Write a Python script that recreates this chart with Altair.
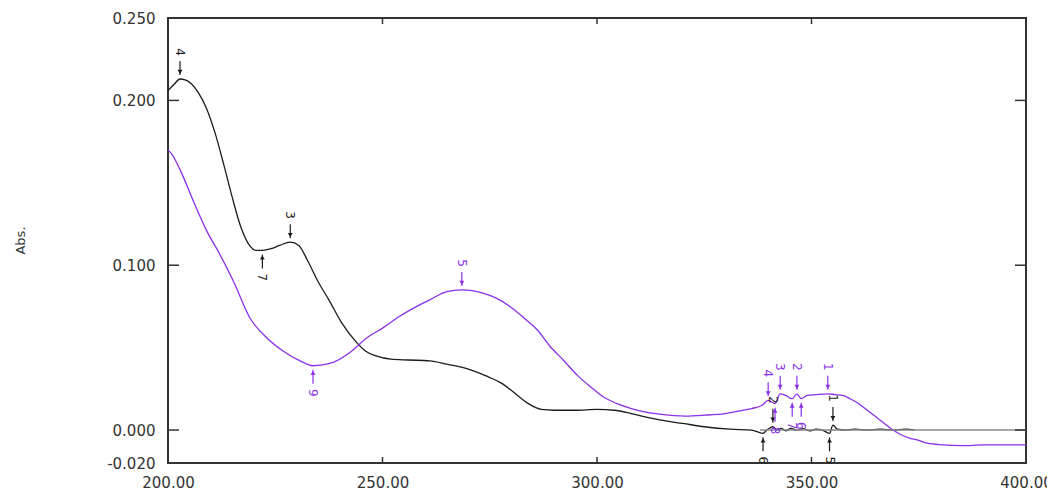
import altair as alt
import pandas as pd

# ---- spectrum data ----
black_nm = [200.0, 201.5, 202.8, 204.0, 205.5, 207.0, 209.0, 211.0, 213.0, 215.0, 217.0, 219.0,
            220.5, 222.0, 224.0, 226.0, 228.5, 230.5, 232.5, 235.0, 237.5, 240.5, 244.0, 246.0,
            248.5, 252.0, 256.0, 261.0, 265.0, 270.0, 274.0, 278.0, 281.0, 284.0, 287.0, 290.0,
            295.0, 300.0, 304.0, 308.0, 312.0, 316.0, 320.0, 325.0, 331.0, 336.0, 338.7, 339.6,
            341.0, 342.0, 343.0, 344.0, 345.2, 346.5, 348.0, 349.5, 351.0, 352.5, 354.2, 355.0,
            356.0, 358.0, 360.0, 363.0, 366.0, 369.0, 372.0, 374.0]
black_abs = [0.206, 0.210, 0.213, 0.2125, 0.210, 0.205, 0.195, 0.180, 0.161, 0.141, 0.123, 0.112,
             0.109, 0.109, 0.110, 0.112, 0.114, 0.112, 0.103, 0.090, 0.079, 0.065, 0.053, 0.048,
             0.045, 0.043, 0.0425, 0.042, 0.040, 0.037, 0.033, 0.028, 0.022, 0.016, 0.0125, 0.012,
             0.012, 0.0125, 0.012, 0.010, 0.0075, 0.0055, 0.004, 0.002, 0.0005, 0.0, -0.002, 0.0,
             0.002, 0.0, 0.001, -0.0005, 0.001, 0.0, 0.0008, -0.0005, 0.0005, 0.0, -0.002, 0.003,
             0.0005, 0.0, 0.0005, 0.0, 0.0005, 0.0, 0.0005, 0.0]

purple_nm = [200.0, 201.0, 202.8, 205.9, 209.0, 212.0, 215.3, 219.1, 223.0, 226.8, 230.8, 233.8,
             236.0, 238.5, 242.4, 246.4, 250.1, 254.0, 258.0, 261.0, 265.0, 268.5, 273.4, 276.5,
             279.7, 283.0, 286.0, 289.0, 292.3, 295.5, 298.6, 301.5, 304.7, 308.0, 311.0, 315.0,
             320.5, 325.0, 329.8, 333.0, 336.0, 338.5, 339.9, 341.5, 342.7, 344.0, 345.5, 346.6,
             347.6, 349.0, 351.0, 353.8, 355.5, 357.3, 359.0, 361.0, 363.0, 365.0, 367.0, 369.0,
             371.0, 373.0, 374.6, 377.0, 380.6, 385.0, 390.0, 395.0, 400.0]
purple_abs = [0.170, 0.167, 0.158, 0.139, 0.121, 0.107, 0.090, 0.068, 0.056, 0.048, 0.042, 0.039,
              0.0395, 0.041, 0.047, 0.056, 0.062, 0.069, 0.075, 0.079, 0.084, 0.085, 0.083, 0.080,
              0.075, 0.068, 0.061, 0.051, 0.042, 0.033, 0.026, 0.020, 0.016, 0.013, 0.011, 0.0095,
              0.0085, 0.009, 0.010, 0.0115, 0.013, 0.015, 0.018, 0.016, 0.022, 0.021, 0.019, 0.022,
              0.019, 0.021, 0.0215, 0.022, 0.0215, 0.021, 0.019, 0.016, 0.012, 0.008, 0.004, 0.0,
              -0.003, -0.005, -0.006, -0.008, -0.009, -0.0095, -0.009, -0.009, -0.009]

# ---- peak / valley picks ----
black_peak_nm = [202.8, 228.5, 341.0, 355.0]
black_peak_abs = [0.213, 0.114, 0.002, 0.003]
black_peak_label = ["4", "3", "2", "1"]
black_valley_nm = [222.0, 338.7, 354.2]
black_valley_abs = [0.109, -0.002, -0.002]
black_valley_label = ["7", "6", "5"]

purple_peak_nm = [268.5, 339.9, 342.7, 346.6, 353.8]
purple_peak_abs = [0.085, 0.018, 0.022, 0.022, 0.022]
purple_peak_label = ["5", "4", "3", "2", "1"]
purple_valley_nm = [233.8, 341.5, 345.5, 347.6]
purple_valley_abs = [0.039, 0.016, 0.019, 0.019]
purple_valley_label = ["9", "8", "7", "6"]

# ---- axes ----
x_label_values = [200, 250, 300, 350, 400]
y_label_values = [-0.02, 0.0, 0.1, 0.2, 0.25]
x_tick_values = [250, 300, 350]
y_tick_values = [0.0, 0.1, 0.2]
baseline_nm = [338.0, 400.0]

series_names = ["black", "purple"]
series_colors = ["#1c1c1c", "#8b2fe8"]

lines = pd.DataFrame({
    "nm": black_nm + purple_nm,
    "abs": black_abs + purple_abs,
    "series": ["black"] * len(black_nm) + ["purple"] * len(purple_nm),
})
peaks = pd.DataFrame({
    "nm": black_peak_nm + purple_peak_nm,
    "abs": black_peak_abs + purple_peak_abs,
    "label": black_peak_label + purple_peak_label,
    "series": ["black"] * len(black_peak_nm) + ["purple"] * len(purple_peak_nm),
})
valleys = pd.DataFrame({
    "nm": black_valley_nm + purple_valley_nm,
    "abs": black_valley_abs + purple_valley_abs,
    "label": black_valley_label + purple_valley_label,
    "series": ["black"] * len(black_valley_nm) + ["purple"] * len(purple_valley_nm),
})
base_df = pd.DataFrame({"nm": [baseline_nm[0]], "nm2": [baseline_nm[1]], "abs": [0.0]})
xt = pd.DataFrame({"nm": x_tick_values})
yt = pd.DataFrame({"abs": y_tick_values})

W, H = 858, 445
xs = alt.Scale(domain=[200, 400], nice=False, zero=False)
ys = alt.Scale(domain=[-0.02, 0.25], nice=False, zero=False)
cs = alt.Scale(domain=series_names, range=series_colors)

X = alt.X("nm:Q", scale=xs)
Y = alt.Y("abs:Q", scale=ys)
C = alt.Color("series:N", scale=cs, legend=None)

x_axis = alt.Axis(values=x_label_values, format=".2f", labelPadding=12, labelFlush=False,
                  labelOverlap=False, title="nm", titleX=422, titleY=26, titleBaseline="top",
                  titleFontSize=13, titleFontWeight="normal", titleColor="#333",
                  domain=False, ticks=False, grid=False)
y_axis = alt.Axis(values=y_label_values,
                  labelExpr="replace(format(datum.value, '.3f'), '\u2212', '-')",
                  labelPadding=13, labelOverlap=False, labelFlush=False,
                  title="Abs.", titleX=-148, titleY=222, titleAngle=270, titleAlign="center",
                  titleBaseline="middle", titleFontSize=13, titleFontWeight="normal",
                  titleColor="#333", domain=False, ticks=False, grid=False)

line_layer = alt.Chart(lines).mark_line(strokeWidth=1.3, interpolate="monotone").encode(
    x=alt.X("nm:Q", scale=xs, axis=x_axis),
    y=alt.Y("abs:Q", scale=ys, axis=y_axis),
    color=C, detail="series:N")

baseline = alt.Chart(base_df).mark_rule(color="#8a8a8a", strokeWidth=1.6).encode(
    x=X, x2="nm2:Q", y=Y)

peak_rule = alt.Chart(peaks).mark_rule(yOffset=-4, y2Offset=-18, strokeWidth=1.2).encode(
    x=X, y=Y, y2="abs:Q", color=C)
peak_head = alt.Chart(peaks).mark_point(shape="triangle-down", filled=True, size=24,
                                        yOffset=-7, opacity=1).encode(x=X, y=Y, color=C)
peak_text = alt.Chart(peaks).mark_text(angle=90, yOffset=-27, fontSize=12,
                                       font="DejaVu Sans").encode(x=X, y=Y, text="label:N", color=C)

valley_rule = alt.Chart(valleys).mark_rule(yOffset=4, y2Offset=18, strokeWidth=1.2).encode(
    x=X, y=Y, y2="abs:Q", color=C)
valley_head = alt.Chart(valleys).mark_point(shape="triangle-up", filled=True, size=24,
                                            yOffset=7, opacity=1).encode(x=X, y=Y, color=C)
valley_text = alt.Chart(valleys).mark_text(angle=90, yOffset=27, fontSize=12,
                                           font="DejaVu Sans").encode(x=X, y=Y, text="label:N", color=C)

tick_left = alt.Chart(yt).mark_rule(color="#333", strokeWidth=1.5).encode(
    y=Y, x=alt.value(0), x2=alt.value(11))
tick_right = alt.Chart(yt).mark_rule(color="#333", strokeWidth=1.5).encode(
    y=Y, x=alt.value(W - 11), x2=alt.value(W))
tick_bottom = alt.Chart(xt).mark_rule(color="#333", strokeWidth=1.5).encode(
    x=X, y=alt.value(H - 6), y2=alt.value(H))
tick_top = alt.Chart(xt).mark_rule(color="#333", strokeWidth=1.5).encode(
    x=X, y=alt.value(0), y2=alt.value(6))

chart = alt.layer(
    line_layer, baseline, peak_rule, peak_head, peak_text,
    valley_rule, valley_head, valley_text,
    tick_left, tick_right, tick_bottom, tick_top,
).properties(
    width=W, height=H, autosize="none", background="white",
    padding={"left": 160, "top": 10, "right": 21, "bottom": 28},
).configure_view(
    stroke="#333", strokeWidth=2
).configure_axis(
    labelFont="DejaVu Sans", labelFontSize=15, labelColor="#333",
    titleFont="DejaVu Sans",
)

chart.save("out.html", embed_options={"renderer": "svg", "actions": False})
